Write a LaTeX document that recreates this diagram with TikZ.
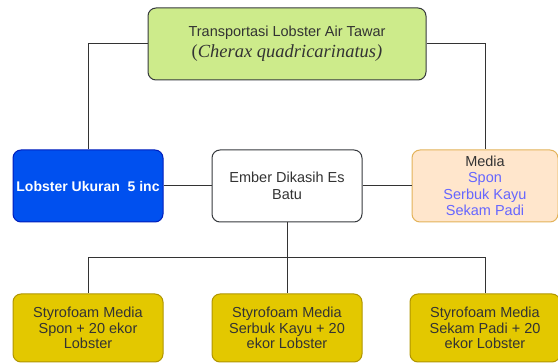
\documentclass[tikz,border=0pt]{standalone}
\usepackage{fontspec}
\setmainfont{Liberation Sans}
\newfontfamily\serifit{Liberation Serif}
\usetikzlibrary{positioning}
\definecolor{mygreen}{HTML}{CDEB8B}
\definecolor{myblue}{HTML}{0050EF}
\definecolor{mydarkblue}{HTML}{001DBC}
\definecolor{mypeach}{HTML}{FFE6CC}
\definecolor{myorange}{HTML}{E3B35A}
\definecolor{myyellow}{HTML}{E3C800}
\definecolor{myolive}{HTML}{B09500}
\definecolor{mygray}{HTML}{36393D}
\definecolor{mytext}{HTML}{333333}
\definecolor{mylink}{HTML}{6666FF}
\tikzset{
	defaultnode/.style={
			rectangle,
			rounded corners=8pt,
			draw=mygray,
			line width=1pt,
			fill=white,
			text=mytext,
			minimum width=150pt,
			minimum height=72pt,
			inner sep=0pt,
			align=center,
			font=\fontsize{14.5pt}{17pt}\selectfont
		},
	titlenode/.style={
			defaultnode,
			fill=mygreen,
			minimum width=278pt,
			minimum height=72pt
		},
	bluenode/.style={
			defaultnode,
			draw=mydarkblue,
			fill=myblue,
			text=white,
			font=\fontsize{14pt}{17pt}\selectfont\bfseries
		},
	medianode/.style={
			defaultnode,
			draw=myorange,
			fill=mypeach,
			minimum width=146pt,
			font=\fontsize{14.5pt}{16.5pt}\selectfont
		},
	styronode/.style={
			defaultnode,
			draw=myolive,
			fill=myyellow,
			minimum height=68pt,
			font=\fontsize{14.5pt}{15.5pt}\selectfont
		},
	link/.style={
			line width=1pt,
			draw=mytext
		}
}
\begin{document}
\begin{tikzpicture}[x=1pt, y=-1pt]
\useasboundingbox (0,0) rectangle (558,363);
\node[titlenode] (n1) at (287,44) {Transportasi Lobster Air Tawar\\[4pt]
  {\serifit\fontsize{18.5pt}{18pt}\selectfont(\textit{Cherax quadricarinatus)}}};
\node[bluenode] (n2) at (88,186) {Lobster Ukuran\ \ 5 inc};
\node[defaultnode] (n3) at (287,186) {Ember Dikasih Es\\Batu};
\node[medianode] (n4) at (485,186) {Media\\\textcolor{mylink}{Spon}\\\textcolor{mylink}{Serbuk Kayu}\\\textcolor{mylink}{Sekam Padi}};
\node[styronode] (n5) at (88,328) {Styrofoam Media\\Spon + 20 ekor\\Lobster};
\node[styronode] (n6) at (287,328) {Styrofoam Media\\Serbuk Kayu + 20\\ekor Lobster};
\node[styronode] (n7) at (485,328) {Styrofoam Media\\Sekam Padi + 20\\ekor Lobster};
\coordinate (split) at (287,258);

\draw[link] (n1.west) -| (n2.north);
\draw[link] (n1.east) -| (n4.north);

\draw[link] (n2) -- (n3);
\draw[link] (n3) -- (n4);

\draw[link] (n3.south) -- (split);
\draw[link] (split) -| (n5.north);
\draw[link] (split) -| (n7.north);
\draw[link] (split) -- (n6.north);
\end{tikzpicture}
\end{document}
